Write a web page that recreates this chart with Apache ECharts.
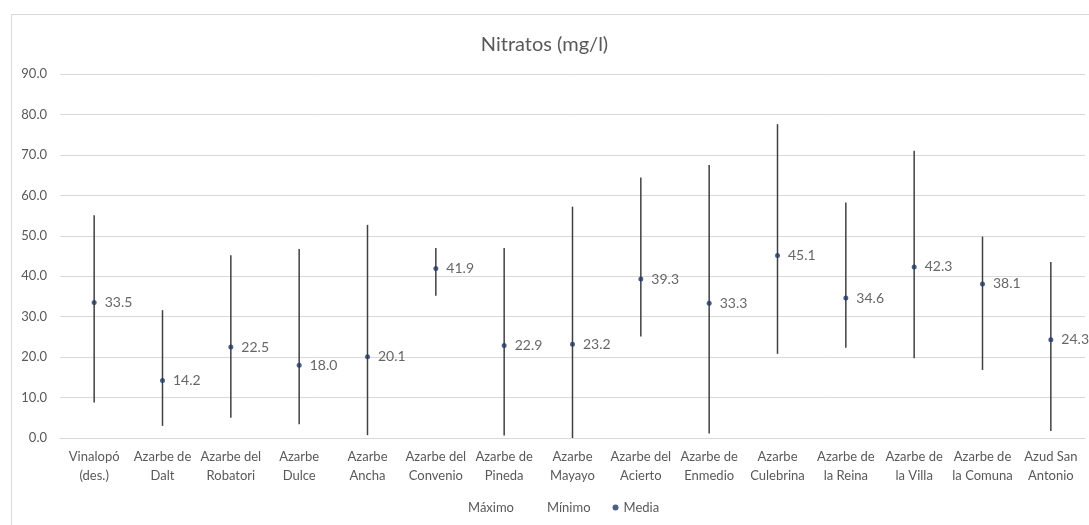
<!DOCTYPE html>
<html>
<head>
<meta charset="utf-8">
<script src="https://cdn.jsdelivr.net/npm/echarts@6/dist/echarts.min.js"></script>
<style>
  html, body { margin: 0; padding: 0; background: #fff; }
  #chart { width: 1089px; height: 525px; }
</style>
</head>
<body>
<div id="chart"></div>
<script>
// Sampling points along the drainage network
const categories = [
  'Vinalopó\n(des.)', 'Azarbe de\nDalt', 'Azarbe del\nRobatori', 'Azarbe\nDulce',
  'Azarbe\nAncha', 'Azarbe del\nConvenio', 'Azarbe de\nPineda', 'Azarbe\nMayayo',
  'Azarbe del\nAcierto', 'Azarbe de\nEnmedio', 'Azarbe\nCulebrina', 'Azarbe de\nla Reina',
  'Azarbe de\nla Villa', 'Azarbe de\nla Comuna', 'Azud San\nAntonio'
];

// Nitrate concentration, mg/l
const maximo = [55.1, 31.6, 45.2, 46.7, 52.7, 47.0, 47.0, 57.2, 64.4, 67.5, 77.6, 58.2, 71.0, 49.8, 43.5];
const minimo = [8.8, 3.0, 5.0, 3.4, 0.7, 35.2, 0.6, 0.0, 25.1, 1.1, 20.8, 22.3, 19.7, 16.8, 1.7];
const media  = [33.5, 14.2, 22.5, 18.0, 20.1, 41.9, 22.9, 23.2, 39.3, 33.3, 45.1, 34.6, 42.3, 38.1, 24.3];

const yTicks = { min: 0, max: 90, interval: 10 };

const FONT = 'Lato, "Open Sans", sans-serif';
const TEXT = '#595959';

const rangeData = categories.map((c, i) => [i, minimo[i], maximo[i]]);

const chart = echarts.init(document.getElementById('chart'), null, { renderer: 'canvas' });

chart.setOption({
  animation: false,
  backgroundColor: '#ffffff',
  textStyle: { fontFamily: FONT },
  graphic: [{
    type: 'rect',
    left: 9, top: 12,
    shape: { width: 1100, height: 540 },
    style: { fill: 'none', stroke: '#d9d9d9', lineWidth: 1 },
    silent: true, z: -1
  }],
  title: {
    text: 'Nitratos (mg/l)',
    left: 'center',
    top: 30,
    textStyle: { fontFamily: FONT, fontSize: 20, fontWeight: 'normal', color: TEXT }
  },
  legend: {
    bottom: 6,
    left: 452,
    itemGap: 22,
    itemWidth: 6,
    itemHeight: 6,
    textStyle: { fontFamily: FONT, fontSize: 13, color: TEXT },
    data: [
      { name: 'Máximo', icon: 'none' },
      { name: 'Mínimo', icon: 'none' },
      { name: 'Media', icon: 'circle' }
    ]
  },
  grid: { left: 60, right: 4, top: 74, bottom: 87, containLabel: false },
  xAxis: {
    type: 'category',
    data: categories,
    boundaryGap: true,
    axisLine: { show: true, lineStyle: { color: '#d9d9d9', width: 1 } },
    axisTick: { show: false },
    axisLabel: {
      interval: 0,
      margin: 9,
      fontFamily: FONT,
      fontSize: 13,
      lineHeight: 19,
      color: TEXT
    }
  },
  yAxis: {
    type: 'value',
    min: yTicks.min,
    max: yTicks.max,
    interval: yTicks.interval,
    axisLine: { show: false },
    axisTick: { show: false },
    axisLabel: {
      margin: 13,
      fontFamily: FONT,
      fontSize: 13,
      color: TEXT,
      formatter: v => v.toFixed(1)
    },
    splitLine: { lineStyle: { color: '#d9d9d9', width: 1 } }
  },
  series: [
    {
      // High-low lines joining minimum and maximum
      type: 'custom',
      name: 'rango',
      data: rangeData,
      encode: { x: 0, y: [1, 2] },
      renderItem: (params, api) => {
        const lo = api.coord([api.value(0), api.value(1)]);
        const hi = api.coord([api.value(0), api.value(2)]);
        return {
          type: 'line',
          shape: { x1: lo[0], y1: lo[1], x2: hi[0], y2: hi[1] },
          style: { stroke: '#404040', lineWidth: 1.5 }
        };
      },
      z: 2,
      silent: true
    },
    {
      name: 'Máximo',
      type: 'line',
      data: maximo,
      symbol: 'none',
      lineStyle: { width: 0, opacity: 0 },
      color: '#404040',
      silent: true
    },
    {
      name: 'Mínimo',
      type: 'line',
      data: minimo,
      symbol: 'none',
      lineStyle: { width: 0, opacity: 0 },
      color: '#404040',
      silent: true
    },
    {
      name: 'Media',
      type: 'scatter',
      data: media,
      symbol: 'circle',
      symbolSize: 5,
      itemStyle: { color: '#1f3864' },
      z: 5,
      label: {
        show: true,
        position: 'right',
        distance: 8,
        fontFamily: FONT,
        fontSize: 14,
        color: '#404040',
        formatter: p => p.value.toFixed(1)
      }
    }
  ]
});
</script>
</body>
</html>
